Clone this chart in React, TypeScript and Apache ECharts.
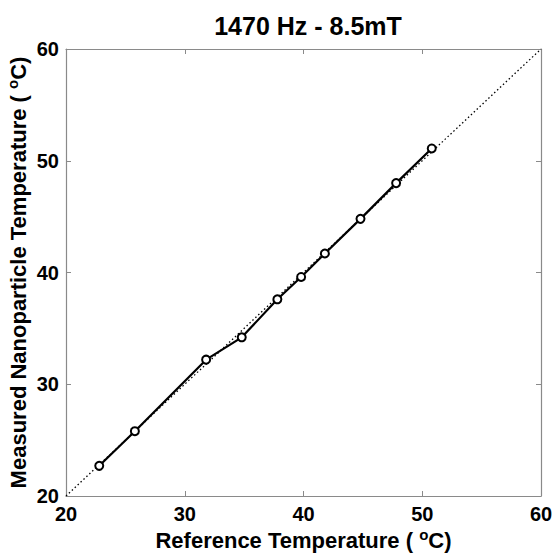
import React, { useEffect, useRef } from "react";
import * as echarts from "echarts";

const referenceTemp = [22.8, 25.8, 31.8, 34.8, 37.8, 39.8, 41.8, 44.8, 47.8, 50.8];
const measuredTemp = [22.7, 25.8, 32.2, 34.2, 37.6, 39.6, 41.7, 44.8, 48.0, 51.1];
const identityLine = [20, 60];
const titleText = "1470 Hz - 8.5mT";

const FONT = "Liberation Sans, Arial, Helvetica, sans-serif";
const AXIS_COLOR = "#8a8a8a";

export default function App() {
  const ref = useRef<HTMLDivElement>(null);
  useEffect(() => {
    if (!ref.current) return;
    const chart = echarts.init(ref.current, undefined, { renderer: "svg" });
    const baseAxis = {
      type: "value",
      min: 20,
      max: 60,
      interval: 10,
      splitLine: { show: false },
      axisLine: { show: true, onZero: false, lineStyle: { color: AXIS_COLOR, width: 1.2 } },
      axisTick: { show: true, inside: true, length: 5, lineStyle: { color: AXIS_COLOR, width: 1 } },
    };
    const labelStyle = { color: "#000", fontFamily: FONT, fontWeight: "bold", fontSize: 20 };
    const nameStyle = {
      color: "#000",
      fontFamily: FONT,
      fontWeight: "bold",
      fontSize: 22,
      lineHeight: 26,
      rich: {
        s: { fontFamily: FONT, fontWeight: "bold", fontSize: 15, lineHeight: 12, color: "#000", verticalAlign: "top" },
      },
    };
    chart.setOption({
      animation: false,
      backgroundColor: "#fff",
      title: {
        text: titleText,
        left: 303,
        top: 8,
        textAlign: "center",
        textStyle: { fontFamily: FONT, fontWeight: "bold", fontSize: 25, color: "#000" },
      },
      grid: { left: 66, right: 15, top: 49, bottom: 58, containLabel: false, outerBoundsMode: "none" },
      xAxis: [
        {
          ...baseAxis,
          position: "bottom",
          axisLabel: { ...labelStyle, margin: 8 },
          name: "Reference Temperature ( {s|o}C)",
          nameLocation: "middle",
          nameGap: 31,
          nameMoveOverlap: false,
          nameTextStyle: nameStyle,
        },
        {
          ...baseAxis,
          position: "top",
          axisLabel: { show: false },
        },
      ],
      yAxis: [
        {
          ...baseAxis,
          position: "left",
          axisLabel: { ...labelStyle, margin: 7 },
          name: "Measured Nanoparticle Temperature ( {s|o}C)",
          nameLocation: "middle",
          nameGap: 35,
          nameRotate: 90,
          nameMoveOverlap: false,
          nameTextStyle: nameStyle,
        },
        {
          ...baseAxis,
          position: "right",
          axisLabel: { show: false },
        },
      ],
      series: [
        {
          type: "line",
          xAxisIndex: 0,
          yAxisIndex: 0,
          data: identityLine.map((v) => [v, v]),
          symbol: "none",
          lineStyle: { color: "#000", width: 1.3, type: [1.5, 2.5] },
          z: 1,
        },
        {
          type: "line",
          xAxisIndex: 0,
          yAxisIndex: 0,
          data: referenceTemp.map((x, i) => [x, measuredTemp[i]]),
          symbol: "circle",
          symbolSize: 8,
          lineStyle: { color: "#000", width: 2.2 },
          itemStyle: { color: "#fff", borderColor: "#000", borderWidth: 2 },
          z: 2,
        },
      ],
    });
    return () => chart.dispose();
  }, []);
  return <div ref={ref} style={{ width: 556, height: 554, position: "absolute", left: 0, top: 0 }} />;
}
